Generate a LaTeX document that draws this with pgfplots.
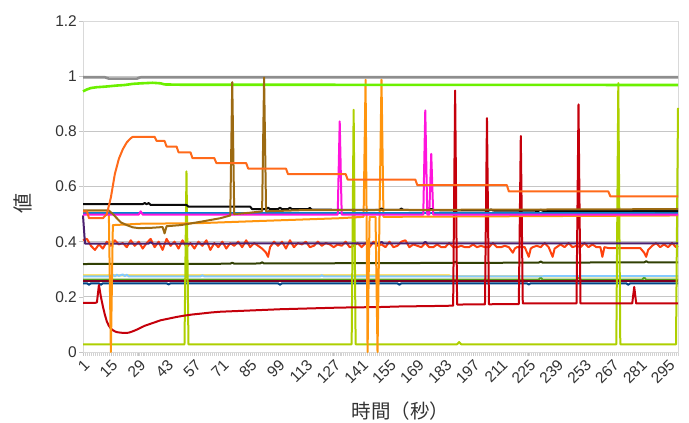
\documentclass[border=0pt]{standalone}
\usepackage{fontspec}
\setmainfont{Liberation Sans}
\newfontfamily\cjk{Noto Sans CJK JP}
\usepackage{pgfplots}
\pgfplotsset{compat=1.18}
\definecolor{cDarkBlue}{HTML}{004586}
\definecolor{cRedOrange}{HTML}{FF420E}
\definecolor{cYellow}{HTML}{FFD320}
\definecolor{cGreen}{HTML}{579D1C}
\definecolor{cMaroon}{HTML}{7E0021}
\definecolor{cLightBlue}{HTML}{83CAFF}
\definecolor{cOlive}{HTML}{314004}
\definecolor{cLime}{HTML}{AECF00}
\definecolor{cPurple}{HTML}{4B1F6F}
\definecolor{cLOrange}{HTML}{FF950E}
\definecolor{cRed}{HTML}{C5000B}
\definecolor{cBlue}{HTML}{0084D1}
\definecolor{cMagenta}{HTML}{FF14DC}
\definecolor{cBlack}{HTML}{0A0A0A}
\definecolor{cGray}{HTML}{8E8E8E}
\definecolor{cBGreen}{HTML}{6CF000}
\definecolor{cBrown}{HTML}{9C6A12}
\definecolor{cDOrange}{HTML}{FF6A1A}
\definecolor{cText}{HTML}{333333}
\begin{document}
\begin{tikzpicture}
\useasboundingbox (0,0) rectangle (689bp,423bp);
\begin{axis}[
  at={(83bp,71bp)}, anchor=south west,
  scale only axis, width=595bp, height=331bp,
  xmin=1, xmax=300, ymin=0, ymax=1.2,
  clip=false,
  ytick={0,0.2,0.4,0.6,0.8,1,1.2},
  yticklabels={0,0.2,0.4,0.6,0.8,1,1.2},
  xtick={1,15,29,43,57,71,85,99,113,127,141,155,169,183,197,211,225,239,253,267,281,295},
  xticklabels={1,15,29,43,57,71,85,99,113,127,141,155,169,183,197,211,225,239,253,267,281,295},
  minor xtick={1,2,...,300},
  xtick pos=bottom, ytick pos=left,
  tick align=outside,
  major tick length=4bp, minor tick length=4bp,
  tick style={draw=gray!45, line width=0.6bp},
  minor tick style={draw=gray!35, line width=0.4bp},
  ymajorgrids, grid style={draw=gray!45, line width=0.8bp},
  axis line style={draw=gray!30, line width=0.8bp},
  ticklabel style={font=\fontsize{15.5bp}{18bp}\selectfont, text=cText},
  xticklabel style={rotate=45, anchor=north east, inner sep=1.5bp},
  yticklabel style={inner sep=2bp},
  xlabel={\cjk\fontsize{19.5bp}{22bp}\selectfont 時間（秒）},
  ylabel={\cjk\fontsize{20bp}{22bp}\selectfont 値},
  xlabel style={at={(axis description cs:0.534,-0.18)}, anchor=center, text=cText, inner sep=0pt},
  ylabel style={at={(axis description cs:-0.101,0.449)}, anchor=center, text=cText, inner sep=0pt},
  every axis plot/.append style={line width=2bp, line join=round, mark=none},
]
% 1 dark blue
\addplot[cDarkBlue] coordinates {(1,0.249)(3,0.249)(4,0.244)(5,0.249)(9,0.249)(10,0.244)(11,0.249)(43,0.249)(44,0.245)(45,0.249)(99,0.249)(100,0.244)(101,0.249)(159,0.249)(160,0.244)(161,0.249)(224,0.249)(225,0.245)(226,0.249)(274,0.249)(275,0.244)(276,0.249)(300,0.249)};
% 2 red-orange (noisy)
\addplot[cRedOrange] coordinates {(1,0.405)(3,0.41)(5,0.385)(7,0.37)(9,0.39)(11,0.375)(13,0.40)(15,0.385)(17,0.405)(19,0.39)(21,0.395)(23,0.38)(25,0.405)(27,0.385)(29,0.40)(31,0.375)(33,0.395)(35,0.41)(37,0.38)(39,0.40)(41,0.37)(43,0.41)(45,0.385)(47,0.40)(49,0.375)(51,0.405)(53,0.38)(55,0.395)(57,0.375)(59,0.40)(61,0.385)(63,0.405)(65,0.37)(67,0.395)(69,0.38)(71,0.40)(73,0.375)(75,0.395)(77,0.385)(79,0.40)(81,0.38)(83,0.405)(85,0.38)(87,0.395)(89,0.385)(91,0.375)(93,0.36)(94,0.345)(95,0.38)(97,0.40)(99,0.385)(101,0.40)(103,0.375)(105,0.405)(107,0.38)(109,0.395)(111,0.39)(113,0.40)(115,0.38)(117,0.385)(119,0.40)(121,0.385)(123,0.395)(125,0.39)(127,0.38)(129,0.39)(131,0.385)(133,0.40)(135,0.38)(137,0.385)(139,0.395)(141,0.38)(143,0.395)(145,0.38)(147,0.40)(149,0.385)(151,0.39)(153,0.38)(155,0.40)(157,0.38)(159,0.385)(161,0.40)(163,0.405)(165,0.38)(167,0.39)(169,0.385)(171,0.38)(173,0.395)(175,0.38)(177,0.38)(179,0.39)(181,0.38)(183,0.38)(185,0.395)(187,0.38)(189,0.38)(191,0.385)(193,0.38)(195,0.38)(197,0.39)(199,0.38)(201,0.385)(203,0.38)(205,0.38)(207,0.395)(209,0.38)(211,0.38)(213,0.385)(215,0.38)(217,0.36)(218,0.375)(219,0.38)(221,0.38)(223,0.38)(225,0.345)(226,0.375)(227,0.38)(229,0.385)(231,0.38)(233,0.395)(235,0.38)(237,0.345)(238,0.375)(239,0.38)(241,0.39)(243,0.38)(245,0.395)(247,0.38)(249,0.385)(251,0.38)(253,0.395)(255,0.38)(257,0.39)(259,0.38)(261,0.38)(262,0.345)(263,0.38)(265,0.377)(281,0.377)(283,0.36)(284,0.345)(285,0.37)(287,0.385)(289,0.395)(291,0.38)(293,0.39)(295,0.38)(297,0.395)(299,0.38)(300,0.385)};
% 3 yellow
\addplot[cYellow] coordinates {(1,0.278)(185,0.278)(186,0.274)(300,0.274)};
% 4 green
\addplot[cGreen] coordinates {(1,0.262)(230,0.262)(231,0.27)(232,0.262)(249,0.262)(250,0.27)(251,0.262)(282,0.262)(283,0.27)(284,0.262)(300,0.262)};
% 5 maroon
\addplot[cMaroon] coordinates {(1,0.256)(300,0.256)};
% 6 light blue
\addplot[cLightBlue] coordinates {(1,0.274)(15,0.274)(16,0.28)(17,0.274)(18,0.28)(19,0.276)(21,0.281)(22,0.275)(23,0.28)(24,0.274)(60,0.274)(61,0.278)(62,0.274)(120,0.274)(121,0.278)(122,0.274)(300,0.275)};
% 7 dark olive
\addplot[cOlive] coordinates {(1,0.319)(75,0.32)(76,0.324)(77,0.32)(90,0.321)(91,0.325)(92,0.321)(187,0.323)(188,0.327)(189,0.323)(230,0.324)(231,0.328)(232,0.324)(283,0.325)(284,0.329)(285,0.325)(300,0.325)};
% 8 lime
\addplot[cLime] coordinates {(1,0.028)(52,0.028)(53,0.655)(54,0.028)(136,0.028)(137,0.878)(138,0.028)(189,0.028)(190,0.036)(191,0.028)(269,0.028)(270,0.975)(271,0.028)(299,0.028)(300,0.885)};
% 9 purple
\addplot[cPurple] coordinates {(1,0.495)(2,0.393)(34,0.393)(35,0.398)(36,0.393)(150,0.394)(151,0.399)(152,0.394)(172,0.394)(173,0.399)(174,0.394)(300,0.394)};
% 11 red
\addplot[cRed] coordinates {(1,0.178)(7,0.178)(8,0.18)(9,0.243)(10,0.2)(11,0.165)(12,0.135)(13,0.11)(14,0.095)(15,0.085)(16,0.079)(17,0.075)(18,0.072)(20,0.07)(22,0.069)(24,0.07)(26,0.075)(28,0.081)(30,0.088)(32,0.095)(34,0.1)(36,0.105)(38,0.11)(40,0.115)(44,0.121)(48,0.127)(52,0.132)(56,0.136)(60,0.139)(65,0.143)(70,0.146)(80,0.149)(90,0.152)(100,0.155)(110,0.157)(120,0.159)(130,0.161)(140,0.162)(150,0.163)(160,0.165)(170,0.166)(180,0.167)(187,0.168)(188,0.948)(189,0.172)(203,0.173)(204,0.848)(205,0.173)(220,0.174)(221,0.783)(222,0.176)(249,0.176)(250,0.898)(251,0.176)(277,0.176)(278,0.236)(279,0.176)(300,0.176)};
% 10 light orange
\addplot[cLOrange] coordinates {(1,0.505)(13,0.505)(14,0.50)(15,0.0)(16,0.46)(30,0.465)(59,0.467)(90,0.475)(130,0.485)(142,0.49)(143,0.987)(144,0.0)(145,0.49)(148,0.49)(149,0.0)(150,0.49)(151,0.987)(152,0.49)(300,0.495)};
% 12 blue
\addplot[cBlue] coordinates {(1,0.505)(300,0.505)};
% 13 magenta
\addplot[cMagenta] coordinates {(1,0.498)(29,0.498)(30,0.51)(31,0.498)(129,0.498)(130,0.836)(131,0.498)(172,0.498)(173,0.876)(174,0.498)(175,0.498)(176,0.718)(177,0.498)(300,0.498)};
% 14 black
\addplot[cBlack] coordinates {(1,0.536)(31,0.536)(32,0.54)(33,0.536)(34,0.54)(35,0.533)(53,0.533)(54,0.527)(85,0.527)(86,0.518)(93,0.518)(94,0.523)(95,0.518)(99,0.518)(100,0.523)(101,0.518)(104,0.518)(105,0.523)(106,0.518)(114,0.518)(115,0.522)(116,0.516)(150,0.515)(151,0.52)(152,0.515)(160,0.515)(161,0.52)(162,0.515)(175,0.514)(176,0.519)(177,0.514)(205,0.513)(206,0.517)(207,0.513)(230,0.512)(231,0.516)(232,0.512)(300,0.511)};
% 15 gray
\addplot[cGray, line width=2.6bp] coordinates {(1,0.996)(12,0.996)(14,0.991)(28,0.991)(30,0.996)(300,0.996)};
% 16 bright green
\addplot[cBGreen, line width=2.6bp] coordinates {(1,0.945)(3,0.952)(5,0.957)(8,0.96)(12,0.962)(18,0.966)(22,0.968)(26,0.972)(30,0.974)(36,0.976)(40,0.974)(42,0.97)(50,0.969)(300,0.968)};
% 17 brown
\addplot[cBrown] coordinates {(1,0.513)(14,0.513)(16,0.50)(18,0.485)(20,0.47)(23,0.46)(26,0.452)(29,0.449)(35,0.45)(41,0.453)(42,0.43)(43,0.456)(50,0.46)(60,0.472)(70,0.485)(75,0.495)(76,0.978)(77,0.5)(85,0.505)(91,0.51)(92,0.995)(93,0.51)(110,0.514)(300,0.518)};
% 18 dark orange
\addplot[cDOrange] coordinates {(1,0.51)(3,0.51)(4,0.485)(11,0.485)(13,0.50)(15,0.56)(17,0.645)(19,0.70)(21,0.735)(23,0.76)(25,0.775)(26,0.78)(37,0.78)(38,0.765)(42,0.765)(43,0.745)(48,0.745)(49,0.724)(55,0.724)(56,0.703)(67,0.703)(68,0.685)(83,0.685)(84,0.665)(103,0.665)(104,0.645)(133,0.645)(134,0.625)(168,0.625)(169,0.605)(214,0.605)(215,0.582)(265,0.582)(266,0.564)(300,0.564)};
\end{axis}
\end{tikzpicture}
\end{document}
